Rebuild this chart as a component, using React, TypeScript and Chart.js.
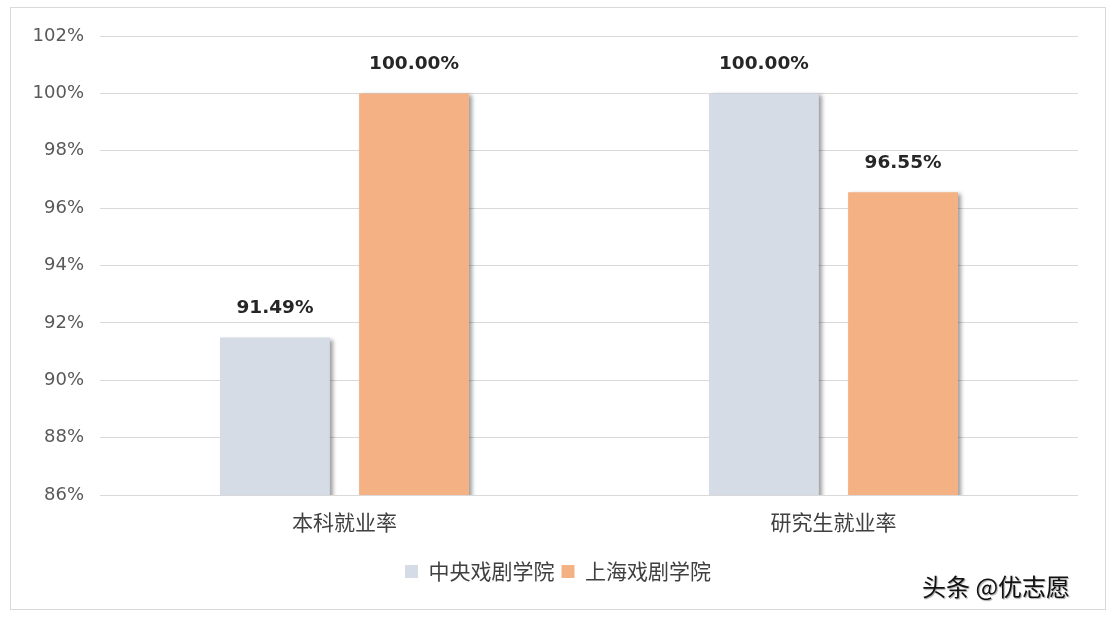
import React, { useEffect, useRef } from "react";
import { Chart, registerables } from "chart.js";

Chart.register(...registerables);

const categories = ["本科就业率", "研究生就业率"];
const seriesNames = ["中央戏剧学院", "上海戏剧学院"];
const centralValues = [91.49, 100.0];
const shanghaiValues = [100.0, 96.55];
const seriesColors = ["#D6DCE5", "#F4B183"];
const yMin = 86;
const yMax = 102;
const yStep = 2;

const shadowPlugin = {
  id: "barShadow",
  beforeDatasetDraw(chart: any) {
    const ctx = chart.ctx;
    ctx.save();
    ctx.shadowColor = "rgba(0,0,0,0.38)";
    ctx.shadowBlur = 4;
    ctx.shadowOffsetX = 3;
    ctx.shadowOffsetY = 2;
  },
  afterDatasetDraw(chart: any) {
    chart.ctx.restore();
  },
};

const legendCenterPlugin = {
  id: "legendCenter",
  afterLayout(chart: any) {
    const lg = chart.legend;
    if (lg) {
      const shift = (chart.width - (lg.left + lg.right)) / 2;
      lg.left += shift;
      lg.right += shift;
    }
  },
};

const labelPlugin = {
  id: "valueLabels",
  afterDatasetsDraw(chart: any) {
    const ctx = chart.ctx;
    ctx.save();
    ctx.font = "bold 18.5px 'DejaVu Sans'";
    ctx.fillStyle = "#262626";
    ctx.textAlign = "center";
    ctx.textBaseline = "middle";
    chart.data.datasets.forEach((ds: any, i: number) => {
      const meta = chart.getDatasetMeta(i);
      meta.data.forEach((bar: any, j: number) => {
        const v = ds.data[j] as number;
        ctx.fillText(v.toFixed(2) + "%", bar.x, bar.y - 29);
      });
    });
    ctx.restore();
  },
};

export default function App() {
  const ref = useRef<HTMLCanvasElement | null>(null);
  useEffect(() => {
    document.body.style.margin = "0";
    const chart = new Chart(ref.current as HTMLCanvasElement, {
      type: "bar",
      data: {
        labels: categories,
        datasets: [
          {
            label: seriesNames[0],
            data: centralValues,
            backgroundColor: seriesColors[0],
            categoryPercentage: 0.569,
            barPercentage: 0.79,
          },
          {
            label: seriesNames[1],
            data: shanghaiValues,
            backgroundColor: seriesColors[1],
            categoryPercentage: 0.569,
            barPercentage: 0.79,
          },
        ],
      },
      options: {
        animation: false,
        responsive: false,
        devicePixelRatio: 1,
        layout: { padding: { left: 0, right: 38, top: 36, bottom: 28 } },
        plugins: {
          tooltip: { enabled: false },
          legend: {
            position: "bottom",
            labels: {
              boxWidth: 13,
              boxHeight: 13,
              padding: 7,
              color: "#404040",
              font: { family: "'Noto Sans CJK SC'", size: 21 },
            },
          },
        },
        scales: {
          x: {
            grid: { display: false, drawTicks: false },
            border: { display: false },
            ticks: {
              padding: 14,
              color: "#404040",
              font: { family: "'Noto Sans CJK SC'", size: 21 },
            },
            afterFit(scale: any) {
              scale.height = 59;
            },
          },
          y: {
            min: yMin,
            max: yMax,
            grid: { color: "#D9D9D9", drawTicks: false },
            border: { display: false },
            ticks: {
              stepSize: yStep,
              padding: 16,
              color: "#595959",
              font: { family: "'DejaVu Sans'", size: 18 },
              callback: (v: any) => v + "%",
            },
            afterFit(scale: any) {
              scale.width = 100;
            },
          },
        },
      },
      plugins: [shadowPlugin, labelPlugin, legendCenterPlugin],
    });
    return () => chart.destroy();
  }, []);

  return (
    <div style={{ position: "relative", width: 1116, height: 620, background: "#fff" }}>
      <div
        style={{
          position: "absolute",
          left: 10,
          top: 7,
          width: 1096,
          height: 603,
          border: "1px solid #D9D9D9",
          boxSizing: "border-box",
        }}
      />
      <canvas ref={ref} width={1116} height={620} style={{ position: "absolute", left: 0, top: 0 }} />
      <div
        style={{
          position: "absolute",
          left: 922,
          top: 570,
          fontFamily: "'Noto Sans CJK SC'",
          fontSize: 24,
          lineHeight: "32px",
          color: "#111",
          textShadow: "1px 1px 1px rgba(0,0,0,0.35)",
          whiteSpace: "nowrap",
        }}
      >
        头条 @优志愿
      </div>
    </div>
  );
}
